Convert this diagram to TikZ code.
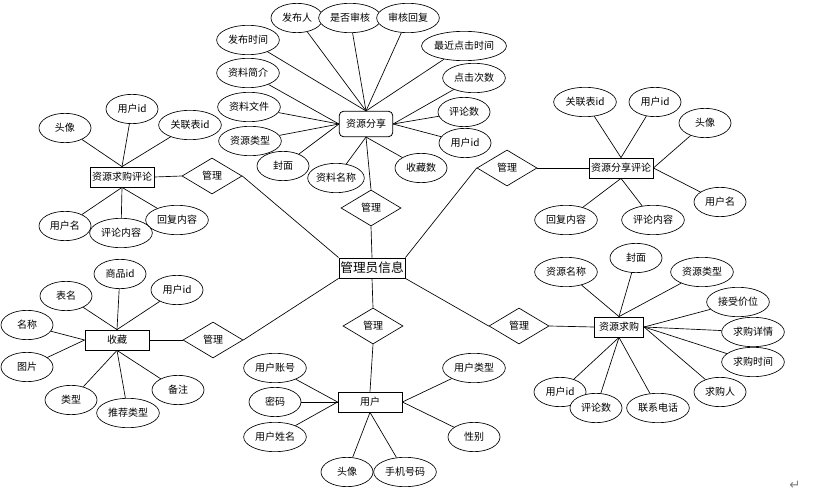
\documentclass[tikz,border=0pt]{standalone}
\usepackage{fontspec}
\setmainfont{Noto Sans CJK SC}
\newfontfamily\symfont{DejaVu Sans}
\usetikzlibrary{shapes.geometric}
\tikzset{
  attr/.style={ellipse,draw,fill=white,line width=0.5pt,minimum width=39pt,minimum height=22pt,inner sep=0pt,font=\fontsize{7.5}{9}\selectfont},
  wattr/.style={attr,minimum width=47pt},
  entity/.style={rectangle,draw,fill=white,line width=0.6pt,minimum width=48pt,minimum height=15pt,inner sep=1pt,font=\fontsize{7.5}{9}\selectfont},
  rel/.style={diamond,draw,fill=white,line width=0.5pt,minimum width=45pt,minimum height=27pt,inner sep=0pt,font=\fontsize{7.5}{9}\selectfont},
  conn/.style={line width=0.5pt}
}
\begin{document}
\begin{tikzpicture}[x=0.75pt,y=0.75pt,yscale=-1,xscale=1]
\useasboundingbox (0,0) rectangle (836,503);

%Shape: Entities
\node [entity,font=\fontsize{9.5}{11}\selectfont,minimum width=47pt] (admin) at (372,268) {管理员信息};
\node [entity,rounded corners=3pt,minimum width=40pt,minimum height=19pt] (share) at (366,124) {资源分享};
\node [entity] (rcomment) at (122,177) {资源求购评论};
\node [entity] (scomment) at (621,168) {资源分享评论};
\node [entity] (fav) at (117,340) {收藏};
\node [entity] (user) at (370,402) {用户};
\node [entity,minimum width=37pt] (buy) at (619,327) {资源求购};

%Shape: Relations
\node [rel] (mshare) at (371,208) {管理};
\node [rel] (mrcomment) at (212,176) {管理};
\node [rel] (mscomment) at (507,168) {管理};
\node [rel] (mfav) at (213,340) {管理};
\node [rel] (muser) at (373,326) {管理};
\node [rel] (mbuy) at (519,326) {管理};

%Shape: Attributes of share
\node [attr] (sfbr) at (297,18) {发布人};
\node [wattr] (ssh) at (350,18) {是否审核};
\node [wattr] (shf) at (408,18) {审核回复};
\node [wattr] (sfbsj) at (248,40) {发布时间};
\node [attr,minimum width=62pt] (szj) at (464,46) {最近点击时间};
\node [wattr] (sjj) at (248,73) {资料简介};
\node [wattr] (sdj) at (474,78) {点击次数};
\node [wattr] (swj) at (249,107) {资料文件};
\node [attr] (splk) at (464,112) {评论数};
\node [attr] (suid) at (465,143) {用户id};
\node [wattr] (slx) at (250,141) {资源类型};
\node [attr] (sfm) at (283,166) {封面};
\node [attr] (smc) at (336,178) {资料名称};
\node [attr] (ssc) at (421,168) {收藏数};

%Shape: Attributes of rcomment
\node [attr] (rtx) at (65,128) {头像};
\node [attr] (ruid) at (132,109) {用户id};
\node [wattr] (rglb) at (190,125) {关联表id};
\node [attr] (ryhm) at (65,226) {用户名};
\node [wattr] (rhfnr) at (177,220) {回复内容};
\node [wattr] (rplnr) at (121,233) {评论内容};

%Shape: Attributes of scomment
\node [wattr] (cglb) at (585,102) {关联表id};
\node [attr] (cuid) at (655,102) {用户id};
\node [attr] (ctx) at (705,123) {头像};
\node [attr] (cyhm) at (720,202) {用户名};
\node [wattr] (chfnr) at (566,220) {回复内容};
\node [wattr] (cplnr) at (653,220) {评论内容};

%Shape: Attributes of fav
\node [attr] (fspid) at (120,274) {商品id};
\node [attr] (fbm) at (66,296) {表名};
\node [attr] (fuid) at (177,290) {用户id};
\node [attr] (fmc) at (27,325) {名称};
\node [attr] (ftp) at (27,367) {图片};
\node [attr] (flx) at (71,400) {类型};
\node [wattr] (ftj) at (128,413) {推荐类型};
\node [attr] (fbz) at (178,390) {备注};

%Shape: Attributes of user
\node [wattr] (uzh) at (275,368) {用户账号};
\node [attr] (umm) at (275,402) {密码};
\node [wattr] (uxm) at (275,437) {用户姓名};
\node [wattr] (ulx) at (474,368) {用户类型};
\node [attr] (uxb) at (474,437) {性别};
\node [attr] (utx) at (347,472) {头像};
\node [wattr] (usj) at (405,472) {手机号码};

%Shape: Attributes of buy
\node [wattr] (bmc) at (566,272) {资源名称};
\node [attr] (bfm) at (636,258) {封面};
\node [wattr] (blx) at (702,272) {资源类型};
\node [wattr] (bjw) at (738,302) {接受价位};
\node [wattr] (bxq) at (753,332) {求购详情};
\node [wattr] (bsj) at (753,362) {求购时间};
\node [attr] (bqgr) at (720,392) {求购人};
\node [attr] (buid) at (560,392) {用户id};
\node [attr] (bplk) at (596,408) {评论数};
\node [wattr] (bdh) at (658,408) {联系电话};

%Straight Lines: share
\draw [conn] (sfbr) -- (share.north) ;
\draw [conn] (ssh) -- (share.north) ;
\draw [conn] (shf) -- (share.north) ;
\draw [conn] (sfbsj) -- (share.north) ;
\draw [conn] (szj) -- (share.north) ;
\draw [conn] (sjj) -- (share.west) ;
\draw [conn] (swj) -- (share.west) ;
\draw [conn] (slx) -- (share.west) ;
\draw [conn] (sfm) -- (share.west) ;
\draw [conn] (sdj) -- (share.east) ;
\draw [conn] (splk) -- (share.east) ;
\draw [conn] (suid) -- (share.east) ;
\draw [conn] (smc) -- (share.south) ;
\draw [conn] (ssc) -- (share.south) ;

%Straight Lines: rcomment
\draw [conn] (rtx) -- (rcomment.north) ;
\draw [conn] (ruid) -- (rcomment.north) ;
\draw [conn] (rglb) -- (rcomment.north) ;
\draw [conn] (ryhm) -- (rcomment.south) ;
\draw [conn] (rplnr) -- (rcomment.south) ;
\draw [conn] (rhfnr) -- (rcomment.south) ;

%Straight Lines: scomment
\draw [conn] (cglb) -- (scomment.north) ;
\draw [conn] (cuid) -- (scomment.north) ;
\draw [conn] (ctx) -- (scomment.east) ;
\draw [conn] (cyhm) -- (scomment.east) ;
\draw [conn] (chfnr) -- (scomment.south) ;
\draw [conn] (cplnr) -- (scomment.south) ;

%Straight Lines: fav
\draw [conn] (fspid) -- (fav.north) ;
\draw [conn] (fbm) -- (fav.north) ;
\draw [conn] (fuid) -- (fav.north) ;
\draw [conn] (fmc) -- (fav.west) ;
\draw [conn] (ftp) -- (fav.west) ;
\draw [conn] (flx) -- (fav.south) ;
\draw [conn] (ftj) -- (fav.south) ;
\draw [conn] (fbz) -- (fav.south) ;

%Straight Lines: user
\draw [conn] (uzh) -- (user.west) ;
\draw [conn] (umm) -- (user.west) ;
\draw [conn] (uxm) -- (user.west) ;
\draw [conn] (ulx) -- (user.east) ;
\draw [conn] (uxb) -- (user.east) ;
\draw [conn] (utx) -- (user.south) ;
\draw [conn] (usj) -- (user.south) ;

%Straight Lines: buy
\draw [conn] (bmc) -- (buy.north) ;
\draw [conn] (bfm) -- (buy.north) ;
\draw [conn] (blx) -- (buy.north) ;
\draw [conn] (bjw) -- (buy.east) ;
\draw [conn] (bxq) -- (buy.east) ;
\draw [conn] (bsj) -- (buy.east) ;
\draw [conn] (bqgr) -- (buy.east) ;
\draw [conn] (buid) -- (buy.south) ;
\draw [conn] (bplk) -- (buy.south) ;
\draw [conn] (bdh) -- (buy.south) ;

%Straight Lines: relations
\draw [conn] (share.south) -- (mshare.north) ;
\draw [conn] (mshare.south) -- (admin.north) ;
\draw [conn] (rcomment.east) -- (mrcomment.west) ;
\draw [conn] (mrcomment.east) -- (admin.north west) ;
\draw [conn] (admin.north east) -- (mscomment.west) ;
\draw [conn] (mscomment.east) -- (scomment.west) ;
\draw [conn] (fav.east) -- (mfav.west) ;
\draw [conn] (mfav.east) -- (admin.south west) ;
\draw [conn] (admin.south) -- (muser.north) ;
\draw [conn] (muser.south) -- (user.north) ;
\draw [conn] (admin.south east) -- (mbuy.west) ;
\draw [conn] (mbuy.east) -- (buy.west) ;

% Text Node
\node [text=gray,font=\symfont\fontsize{10}{12}\selectfont] (pmark) at (795,485) {↵};

\end{tikzpicture}
\end{document}
